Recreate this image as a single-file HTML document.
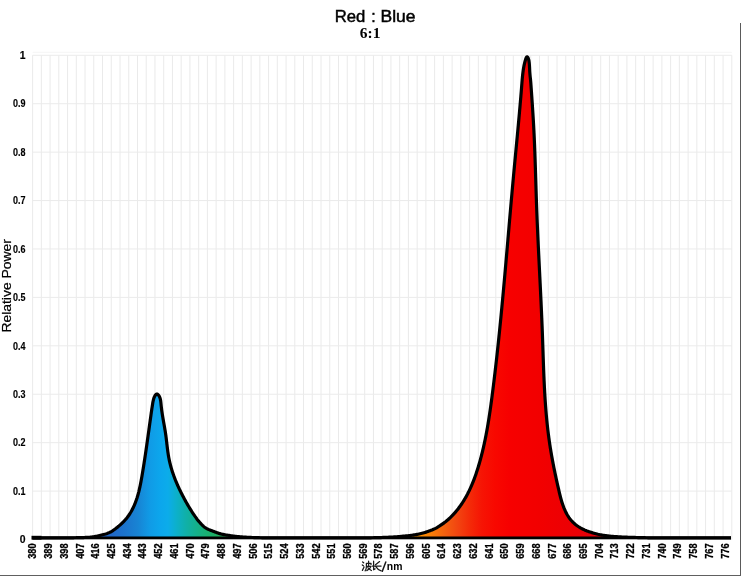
<!DOCTYPE html>
<html><head><meta charset="utf-8"><style>
html,body{margin:0;padding:0;background:#fff;width:741px;height:576px;overflow:hidden}
svg{display:block;font-family:"Liberation Sans",sans-serif;will-change:transform}
</style></head><body>
<svg width="741" height="576" viewBox="0 0 741 576">
<defs><linearGradient id="g" gradientUnits="userSpaceOnUse" x1="0" y1="0" x2="741" y2="0">
<stop offset="0.1350" stop-color="#2266c8"/>
<stop offset="0.1511" stop-color="#2068c8"/>
<stop offset="0.1687" stop-color="#1c74cc"/>
<stop offset="0.1862" stop-color="#1884d4"/>
<stop offset="0.2024" stop-color="#109be6"/>
<stop offset="0.2159" stop-color="#0ca6ec"/>
<stop offset="0.2267" stop-color="#0cacea"/>
<stop offset="0.2375" stop-color="#0cb0cc"/>
<stop offset="0.2510" stop-color="#10b0a8"/>
<stop offset="0.2645" stop-color="#14b08c"/>
<stop offset="0.2780" stop-color="#18b074"/>
<stop offset="0.2942" stop-color="#20b060"/>
<stop offset="0.3171" stop-color="#30b050"/>
<stop offset="0.4049" stop-color="#80b030"/>
<stop offset="0.5398" stop-color="#ffa800"/>
<stop offset="0.5641" stop-color="#fc9400"/>
<stop offset="0.5830" stop-color="#f87c08"/>
<stop offset="0.6005" stop-color="#f36010"/>
<stop offset="0.6181" stop-color="#f24410"/>
<stop offset="0.6343" stop-color="#f42a08"/>
<stop offset="0.6505" stop-color="#f61404"/>
<stop offset="0.6680" stop-color="#f80800"/>
<stop offset="0.6883" stop-color="#f70000"/>
<stop offset="0.7287" stop-color="#f20000"/>
<stop offset="0.7692" stop-color="#ec0004"/>
<stop offset="0.8097" stop-color="#e4000c"/>
</linearGradient></defs>
<rect width="741" height="576" fill="#fff"/>
<path d="M32.60,55.3V539.5M41.34,55.3V539.5M50.08,55.3V539.5M58.82,55.3V539.5M67.56,55.3V539.5M76.30,55.3V539.5M85.04,55.3V539.5M93.78,55.3V539.5M102.52,55.3V539.5M111.26,55.3V539.5M120.00,55.3V539.5M128.74,55.3V539.5M137.48,55.3V539.5M146.22,55.3V539.5M154.96,55.3V539.5M163.70,55.3V539.5M172.44,55.3V539.5M181.18,55.3V539.5M189.92,55.3V539.5M198.66,55.3V539.5M207.40,55.3V539.5M216.14,55.3V539.5M224.88,55.3V539.5M233.62,55.3V539.5M242.36,55.3V539.5M251.10,55.3V539.5M259.84,55.3V539.5M268.58,55.3V539.5M277.32,55.3V539.5M286.06,55.3V539.5M294.80,55.3V539.5M303.54,55.3V539.5M312.28,55.3V539.5M321.02,55.3V539.5M329.76,55.3V539.5M338.50,55.3V539.5M347.24,55.3V539.5M355.98,55.3V539.5M364.72,55.3V539.5M373.46,55.3V539.5M382.20,55.3V539.5M390.94,55.3V539.5M399.68,55.3V539.5M408.42,55.3V539.5M417.16,55.3V539.5M425.90,55.3V539.5M434.64,55.3V539.5M443.38,55.3V539.5M452.12,55.3V539.5M460.86,55.3V539.5M469.60,55.3V539.5M478.34,55.3V539.5M487.08,55.3V539.5M495.82,55.3V539.5M504.56,55.3V539.5M513.30,55.3V539.5M522.04,55.3V539.5M530.78,55.3V539.5M539.52,55.3V539.5M548.26,55.3V539.5M557.00,55.3V539.5M565.74,55.3V539.5M574.48,55.3V539.5M583.22,55.3V539.5M591.96,55.3V539.5M600.70,55.3V539.5M609.44,55.3V539.5M618.18,55.3V539.5M626.92,55.3V539.5M635.66,55.3V539.5M644.40,55.3V539.5M653.14,55.3V539.5M661.88,55.3V539.5M670.62,55.3V539.5M679.36,55.3V539.5M688.10,55.3V539.5M696.84,55.3V539.5M705.58,55.3V539.5M714.32,55.3V539.5M723.06,55.3V539.5M731.80,55.3V539.5" stroke="#eaeaea" stroke-width="1" fill="none"/>
<path d="M32.60,539.50H731.80M32.60,491.08H731.80M32.60,442.66H731.80M32.60,394.24H731.80M32.60,345.82H731.80M32.60,297.40H731.80M32.60,248.98H731.80M32.60,200.56H731.80M32.60,152.14H731.80M32.60,103.72H731.80M32.60,55.30H731.80" stroke="#ebebeb" stroke-width="1" fill="none"/>
<path d="M32.60,52.3H731.80" stroke="#f5f5f5" stroke-width="1"/>
<path d="M32.55,537.95 L33.55,537.95 L34.55,537.95 L35.55,537.95 L36.55,537.95 L37.55,537.95 L38.55,537.95 L39.55,537.95 L40.55,537.95 L41.55,537.95 L42.55,537.95 L43.55,537.95 L44.55,537.95 L45.55,537.95 L46.55,537.95 L47.55,537.95 L48.55,537.95 L49.55,537.95 L50.55,537.95 L51.55,537.95 L52.55,537.95 L53.55,537.95 L54.55,537.95 L55.55,537.95 L56.55,537.95 L57.55,537.95 L58.55,537.95 L59.55,537.95 L60.55,537.95 L61.55,537.95 L62.55,537.95 L63.55,537.95 L64.55,537.95 L65.55,537.95 L66.55,537.94 L67.55,537.93 L68.55,537.92 L69.55,537.91 L70.55,537.88 L71.55,537.86 L72.55,537.83 L73.55,537.80 L74.55,537.76 L75.55,537.73 L76.55,537.70 L77.55,537.67 L78.55,537.65 L79.55,537.62 L80.55,537.60 L81.55,537.58 L82.55,537.55 L83.55,537.53 L84.55,537.50 L85.55,537.46 L86.55,537.42 L87.55,537.37 L88.55,537.31 L89.55,537.24 L90.55,537.15 L91.55,537.05 L92.55,536.93 L93.55,536.79 L94.55,536.62 L95.55,536.43 L96.55,536.22 L97.55,535.99 L98.55,535.74 L99.55,535.49 L100.55,535.24 L101.55,534.99 L102.55,534.74 L103.55,534.48 L104.55,534.22 L105.55,533.95 L106.32,533.72 L107.16,533.44 L108.00,533.12 L108.83,532.77 L109.65,532.39 L110.47,531.98 L111.28,531.53 L112.08,531.06 L112.87,530.56 L113.66,530.03 L114.43,529.49 L115.20,528.93 L115.96,528.35 L116.71,527.76 L117.45,527.16 L118.18,526.55 L118.90,525.97 L119.61,525.37 L120.31,524.77 L120.99,524.16 L121.67,523.53 L122.33,522.89 L122.99,522.25 L123.63,521.59 L124.26,520.92 L124.87,520.25 L125.48,519.56 L126.06,518.86 L126.64,518.16 L127.20,517.45 L127.75,516.72 L128.29,515.99 L128.81,515.26 L129.31,514.51 L129.80,513.76 L130.28,513.00 L130.75,512.23 L131.20,511.45 L131.64,510.67 L132.07,509.88 L132.48,509.09 L132.89,508.28 L133.28,507.48 L133.66,506.66 L134.03,505.84 L134.39,505.02 L134.74,504.18 L135.08,503.35 L135.41,502.51 L135.73,501.66 L136.04,500.81 L136.34,499.95 L136.63,499.09 L136.92,498.23 L137.19,497.36 L137.46,496.48 L137.72,495.61 L137.97,494.73 L138.22,493.84 L138.45,492.96 L138.69,492.07 L138.91,491.17 L139.13,490.28 L139.34,489.38 L139.55,488.48 L139.75,487.58 L139.95,486.67 L140.14,485.77 L140.33,484.86 L140.51,483.95 L140.69,483.04 L140.87,482.13 L141.04,481.22 L141.21,480.31 L141.37,479.39 L141.54,478.48 L141.70,477.57 L141.86,476.65 L142.01,475.74 L142.17,474.83 L142.32,473.91 L142.48,473.00 L142.63,472.09 L142.78,471.18 L142.93,470.27 L143.08,469.36 L143.23,468.45 L143.37,467.55 L143.52,466.64 L143.66,465.73 L143.81,464.82 L143.95,463.92 L144.09,463.01 L144.23,462.11 L144.37,461.20 L144.51,460.30 L144.65,459.39 L144.79,458.49 L144.93,457.59 L145.06,456.68 L145.20,455.78 L145.33,454.88 L145.47,453.98 L145.60,453.08 L145.73,452.18 L145.87,451.28 L146.00,450.38 L146.13,449.47 L146.26,448.57 L146.39,447.67 L146.52,446.77 L146.65,445.88 L146.78,444.98 L146.90,444.08 L147.03,443.18 L147.16,442.28 L147.29,441.38 L147.41,440.48 L147.54,439.58 L147.67,438.68 L147.79,437.79 L147.92,436.89 L148.04,435.99 L148.17,435.09 L148.29,434.19 L148.42,433.29 L148.54,432.39 L148.67,431.49 L148.79,430.60 L148.92,429.70 L149.04,428.80 L149.17,427.90 L149.29,427.00 L149.42,426.10 L149.54,425.20 L149.67,424.30 L149.79,423.40 L149.92,422.50 L150.04,421.60 L150.17,420.70 L150.29,419.80 L150.42,418.90 L150.55,417.99 L150.67,417.09 L150.80,416.19 L150.93,415.29 L151.05,414.38 L151.18,413.48 L151.31,412.57 L151.44,411.65 L151.58,410.73 L151.71,409.79 L151.85,408.85 L151.99,407.89 L152.14,406.92 L152.29,405.93 L152.45,404.92 L152.61,403.90 L152.78,402.86 L152.97,401.82 L153.18,400.79 L153.42,399.78 L153.69,398.80 L154.00,397.85 L154.36,396.95 L154.76,396.11 L155.21,395.35 L155.71,394.71 L156.25,394.26 L156.81,394.06 L157.38,394.16 L157.96,394.52 L158.52,395.09 L159.03,395.82 L159.48,396.65 L159.85,397.52 L160.15,398.43 L160.39,399.38 L160.58,400.35 L160.74,401.34 L160.86,402.34 L160.96,403.34 L161.06,404.35 L161.15,405.35 L161.26,406.34 L161.37,407.32 L161.48,408.29 L161.60,409.25 L161.72,410.21 L161.85,411.16 L161.98,412.09 L162.12,413.03 L162.26,413.95 L162.40,414.87 L162.55,415.79 L162.70,416.69 L162.85,417.60 L163.00,418.50 L163.16,419.39 L163.31,420.28 L163.47,421.17 L163.62,422.06 L163.78,422.94 L163.94,423.83 L164.10,424.71 L164.25,425.59 L164.41,426.47 L164.56,427.35 L164.71,428.23 L164.86,429.11 L165.01,429.99 L165.16,430.88 L165.30,431.76 L165.44,432.65 L165.57,433.54 L165.70,434.44 L165.83,435.34 L165.95,436.24 L166.07,437.15 L166.18,438.06 L166.29,438.97 L166.41,439.89 L166.51,440.81 L166.62,441.73 L166.73,442.65 L166.83,443.57 L166.94,444.50 L167.05,445.42 L167.16,446.35 L167.27,447.28 L167.38,448.21 L167.50,449.13 L167.62,450.06 L167.74,450.99 L167.87,451.91 L168.00,452.83 L168.14,453.76 L168.28,454.68 L168.43,455.60 L168.58,456.51 L168.75,457.42 L168.92,458.33 L169.10,459.24 L169.28,460.14 L169.48,461.04 L169.68,461.94 L169.89,462.84 L170.11,463.73 L170.33,464.62 L170.56,465.50 L170.80,466.39 L171.04,467.27 L171.29,468.15 L171.55,469.02 L171.82,469.90 L172.09,470.77 L172.37,471.63 L172.65,472.50 L172.94,473.36 L173.24,474.23 L173.54,475.08 L173.85,475.94 L174.17,476.80 L174.49,477.65 L174.81,478.50 L175.15,479.35 L175.48,480.20 L175.83,481.04 L176.17,481.88 L176.53,482.72 L176.89,483.56 L177.25,484.40 L177.62,485.24 L177.99,486.07 L178.37,486.90 L178.75,487.74 L179.14,488.57 L179.53,489.39 L179.93,490.22 L180.33,491.05 L180.74,491.87 L181.15,492.70 L181.56,493.52 L181.98,494.34 L182.40,495.16 L182.82,495.98 L183.25,496.80 L183.68,497.61 L184.12,498.43 L184.55,499.24 L185.00,500.06 L185.44,500.87 L185.89,501.68 L186.35,502.49 L186.81,503.30 L187.27,504.10 L187.73,504.90 L188.20,505.71 L188.68,506.50 L189.16,507.30 L189.64,508.10 L190.13,508.89 L190.62,509.68 L191.12,510.46 L191.62,511.25 L192.12,512.03 L192.63,512.81 L193.15,513.58 L193.66,514.35 L194.19,515.12 L194.72,515.88 L195.25,516.64 L195.80,517.39 L196.35,518.18 L196.90,518.96 L197.46,519.71 L198.04,520.43 L198.62,521.13 L199.21,521.82 L199.80,522.50 L200.41,523.18 L201.03,523.85 L201.66,524.51 L202.30,525.17 L202.96,525.79 L203.62,526.39 L204.30,526.96 L204.99,527.48 L205.70,527.96 L206.42,528.39 L207.15,528.78 L207.90,529.14 L208.00,529.18 L209.00,529.63 L210.00,530.04 L211.00,530.44 L212.00,530.83 L213.00,531.22 L214.00,531.60 L215.00,531.98 L216.00,532.34 L217.00,532.70 L218.00,533.04 L219.00,533.36 L220.00,533.65 L221.00,533.92 L222.00,534.17 L223.00,534.39 L224.00,534.59 L225.00,534.78 L226.00,534.96 L227.00,535.13 L228.00,535.28 L229.00,535.44 L230.00,535.58 L231.00,535.73 L232.00,535.87 L233.00,536.00 L234.00,536.13 L235.00,536.25 L236.00,536.37 L237.00,536.48 L238.00,536.58 L239.00,536.68 L240.00,536.77 L241.00,536.85 L242.00,536.93 L243.00,537.00 L244.00,537.07 L245.00,537.13 L246.00,537.19 L247.00,537.24 L248.00,537.30 L249.00,537.34 L250.00,537.39 L251.00,537.44 L252.00,537.48 L253.00,537.52 L254.00,537.56 L255.00,537.60 L256.00,537.63 L257.00,537.67 L258.00,537.70 L259.00,537.72 L260.00,537.75 L261.00,537.77 L262.00,537.79 L263.00,537.81 L264.00,537.82 L265.00,537.84 L266.00,537.85 L267.00,537.86 L268.00,537.87 L269.00,537.88 L270.00,537.89 L271.00,537.90 L272.00,537.91 L273.00,537.92 L274.00,537.93 L275.00,537.93 L276.00,537.94 L277.00,537.94 L278.00,537.94 L279.00,537.95 L280.00,537.95 L281.00,537.95 L282.00,537.95 L283.00,537.95 L284.00,537.95 L285.00,537.95 L286.00,537.95 L287.00,537.95 L288.00,537.95 L289.00,537.95 L290.00,537.95 L291.00,537.95 L292.00,537.95 L293.00,537.95 L294.00,537.95 L295.00,537.95 L296.00,537.95 L297.00,537.95 L298.00,537.95 L299.00,537.95 L300.00,537.95 L301.00,537.95 L302.00,537.95 L303.00,537.95 L304.00,537.95 L305.00,537.95 L306.00,537.95 L307.00,537.95 L308.00,537.95 L309.00,537.95 L310.00,537.95 L311.00,537.95 L312.00,537.95 L313.00,537.95 L314.00,537.95 L315.00,537.95 L316.00,537.95 L317.00,537.95 L318.00,537.95 L319.00,537.95 L320.00,537.95 L321.00,537.95 L322.00,537.95 L323.00,537.95 L324.00,537.95 L325.00,537.95 L326.00,537.95 L327.00,537.95 L328.00,537.95 L329.00,537.95 L330.00,537.95 L331.00,537.95 L332.00,537.95 L333.00,537.95 L334.00,537.95 L335.00,537.95 L336.00,537.95 L337.00,537.95 L338.00,537.95 L339.00,537.95 L340.00,537.95 L341.00,537.95 L342.00,537.95 L343.00,537.95 L344.00,537.95 L345.00,537.95 L346.00,537.95 L347.00,537.95 L348.00,537.95 L349.00,537.95 L350.00,537.95 L351.00,537.95 L352.00,537.95 L353.00,537.95 L354.00,537.95 L355.00,537.95 L356.00,537.95 L357.00,537.95 L358.00,537.94 L359.00,537.94 L360.00,537.93 L361.00,537.93 L362.00,537.92 L363.00,537.91 L364.00,537.89 L365.00,537.88 L366.00,537.87 L367.00,537.85 L368.00,537.83 L369.00,537.82 L370.00,537.80 L371.00,537.78 L372.00,537.76 L373.00,537.74 L374.00,537.72 L375.00,537.69 L376.00,537.67 L377.00,537.64 L378.00,537.62 L379.00,537.59 L380.00,537.56 L381.00,537.53 L382.00,537.50 L383.00,537.46 L384.00,537.43 L385.00,537.39 L386.00,537.35 L387.00,537.31 L388.00,537.27 L389.00,537.22 L390.00,537.17 L391.00,537.12 L392.00,537.07 L393.00,537.01 L394.00,536.94 L395.00,536.88 L396.00,536.81 L397.00,536.73 L398.00,536.65 L399.00,536.57 L400.00,536.48 L401.00,536.39 L402.00,536.30 L403.00,536.21 L404.00,536.12 L405.00,536.02 L406.00,535.93 L407.00,535.83 L408.00,535.73 L409.00,535.62 L410.00,535.50 L411.00,535.38 L412.00,535.25 L413.00,535.10 L414.00,534.95 L415.00,534.78 L416.00,534.61 L417.00,534.42 L418.00,534.22 L419.00,534.00 L420.00,533.77 L421.00,533.53 L422.00,533.27 L423.00,533.00 L424.00,532.72 L425.00,532.42 L426.00,532.11 L427.00,531.78 L428.00,531.45 L429.00,531.10 L430.00,530.73 L431.00,530.35 L432.00,529.95 L433.00,529.52 L434.00,529.07 L435.00,528.59 L436.00,528.08 L437.00,527.53 L438.02,526.94 L439.19,526.22 L440.35,525.46 L441.49,524.69 L442.61,523.90 L443.72,523.10 L444.81,522.29 L445.89,521.47 L446.95,520.59 L447.99,519.69 L449.01,518.77 L450.02,517.83 L451.01,516.87 L451.98,515.89 L452.93,514.90 L453.86,513.89 L454.78,512.87 L455.67,511.84 L456.55,510.79 L457.41,509.73 L458.25,508.66 L459.07,507.58 L459.87,506.49 L460.66,505.38 L461.43,504.27 L462.19,503.14 L462.92,502.00 L463.65,500.85 L464.35,499.70 L465.04,498.53 L465.72,497.36 L466.38,496.17 L467.02,494.98 L467.66,493.78 L468.27,492.57 L468.88,491.35 L469.47,490.13 L470.05,488.90 L470.62,487.66 L471.17,486.41 L471.71,485.16 L472.24,483.90 L472.76,482.64 L473.27,481.37 L473.76,480.10 L474.25,478.82 L474.72,477.54 L475.19,476.25 L475.65,474.96 L476.09,473.66 L476.53,472.36 L476.96,471.06 L477.38,469.76 L477.79,468.45 L478.20,467.14 L478.60,465.83 L478.99,464.52 L479.37,463.20 L479.75,461.88 L480.11,460.57 L480.48,459.25 L480.83,457.92 L481.18,456.60 L481.53,455.28 L481.86,453.95 L482.20,452.62 L482.52,451.29 L482.84,449.96 L483.15,448.63 L483.46,447.30 L483.76,445.97 L484.06,444.63 L484.35,443.29 L484.64,441.96 L484.92,440.62 L485.20,439.28 L485.47,437.94 L485.73,436.59 L486.00,435.25 L486.25,433.91 L486.51,432.56 L486.75,431.22 L487.00,429.87 L487.24,428.52 L487.48,427.17 L487.71,425.82 L487.94,424.47 L488.16,423.12 L488.39,421.77 L488.60,420.41 L488.82,419.06 L489.03,417.71 L489.24,416.35 L489.45,415.00 L489.65,413.64 L489.85,412.28 L490.05,410.93 L490.25,409.57 L490.44,408.21 L490.63,406.85 L490.82,405.50 L491.01,404.14 L491.19,402.78 L491.38,401.42 L491.56,400.06 L491.74,398.70 L491.92,397.34 L492.09,395.98 L492.27,394.61 L492.45,393.25 L492.62,391.89 L492.79,390.53 L492.97,389.17 L493.14,387.81 L493.31,386.45 L493.48,385.09 L493.64,383.72 L493.81,382.36 L493.98,381.00 L494.14,379.64 L494.31,378.28 L494.47,376.92 L494.64,375.55 L494.80,374.19 L494.96,372.83 L495.12,371.47 L495.28,370.10 L495.44,368.74 L495.60,367.38 L495.75,366.02 L495.91,364.65 L496.07,363.29 L496.22,361.93 L496.37,360.56 L496.53,359.20 L496.68,357.84 L496.83,356.47 L496.98,355.11 L497.13,353.75 L497.28,352.38 L497.43,351.02 L497.58,349.66 L497.73,348.29 L497.87,346.93 L498.02,345.57 L498.16,344.20 L498.31,342.84 L498.45,341.47 L498.60,340.11 L498.74,338.75 L498.88,337.38 L499.02,336.02 L499.16,334.65 L499.30,333.29 L499.44,331.93 L499.58,330.56 L499.72,329.20 L499.86,327.83 L499.99,326.47 L500.13,325.10 L500.26,323.74 L500.40,322.37 L500.53,321.01 L500.67,319.64 L500.80,318.28 L500.94,316.91 L501.07,315.55 L501.20,314.18 L501.33,312.82 L501.46,311.45 L501.59,310.09 L501.73,308.72 L501.85,307.36 L501.98,305.99 L502.11,304.63 L502.24,303.26 L502.37,301.90 L502.50,300.53 L502.63,299.17 L502.75,297.80 L502.88,296.44 L503.00,295.07 L503.13,293.71 L503.26,292.34 L503.38,290.98 L503.51,289.61 L503.63,288.24 L503.75,286.88 L503.88,285.51 L504.00,284.15 L504.12,282.78 L504.25,281.42 L504.37,280.05 L504.49,278.69 L504.61,277.32 L504.74,275.95 L504.86,274.59 L504.98,273.22 L505.10,271.86 L505.22,270.49 L505.34,269.13 L505.46,267.76 L505.58,266.39 L505.70,265.03 L505.82,263.66 L505.94,262.30 L506.06,260.93 L506.18,259.57 L506.30,258.20 L506.42,256.84 L506.54,255.47 L506.65,254.10 L506.77,252.74 L506.89,251.37 L507.01,250.01 L507.13,248.64 L507.25,247.28 L507.36,245.91 L507.48,244.55 L507.60,243.18 L507.72,241.81 L507.84,240.45 L507.95,239.08 L508.07,237.72 L508.19,236.35 L508.31,234.99 L508.42,233.62 L508.54,232.26 L508.66,230.89 L508.78,229.53 L508.90,228.16 L509.01,226.80 L509.13,225.43 L509.25,224.07 L509.37,222.70 L509.49,221.34 L509.60,219.97 L509.72,218.60 L509.84,217.24 L509.96,215.88 L510.08,214.51 L510.20,213.15 L510.32,211.78 L510.44,210.42 L510.56,209.05 L510.67,207.69 L510.79,206.32 L510.91,204.96 L511.03,203.59 L511.15,202.23 L511.27,200.86 L511.40,199.50 L511.52,198.13 L511.64,196.77 L511.76,195.41 L511.88,194.04 L512.00,192.68 L512.12,191.31 L512.25,189.95 L512.37,188.59 L512.49,187.22 L512.62,185.86 L512.74,184.49 L512.86,183.13 L512.99,181.77 L513.11,180.40 L513.24,179.04 L513.36,177.68 L513.49,176.31 L513.61,174.95 L513.74,173.59 L513.87,172.22 L513.99,170.86 L514.12,169.50 L514.25,168.13 L514.38,166.77 L514.50,165.41 L514.63,164.05 L514.76,162.68 L514.89,161.32 L515.02,159.96 L515.15,158.59 L515.28,157.23 L515.41,155.87 L515.53,154.50 L515.66,153.14 L515.79,151.78 L515.92,150.42 L516.05,149.05 L516.18,147.69 L516.31,146.32 L516.44,144.96 L516.57,143.60 L516.70,142.23 L516.83,140.87 L516.96,139.51 L517.09,138.14 L517.22,136.78 L517.35,135.41 L517.47,134.05 L517.60,132.68 L517.73,131.32 L517.86,129.95 L517.98,128.59 L518.11,127.22 L518.24,125.86 L518.36,124.49 L518.49,123.12 L518.62,121.76 L518.74,120.39 L518.87,119.02 L518.99,117.66 L519.11,116.29 L519.24,114.92 L519.36,113.55 L519.48,112.18 L519.60,110.81 L519.72,109.44 L519.85,108.08 L519.97,106.71 L520.08,105.34 L520.20,103.97 L520.32,102.59 L520.44,101.22 L520.55,99.85 L520.67,98.48 L520.79,97.11 L520.90,95.73 L521.01,94.36 L521.13,92.99 L521.24,91.61 L521.35,90.24 L521.46,88.87 L521.57,87.49 L521.68,86.11 L521.78,84.74 L521.89,83.36 L522.00,81.98 L522.11,80.61 L522.23,79.23 L522.35,77.85 L522.48,76.47 L522.62,75.09 L522.78,73.71 L522.95,72.33 L523.14,70.95 L523.34,69.57 L523.56,68.19 L523.81,66.80 L524.08,65.42 L524.38,64.03 L524.71,62.65 L525.06,61.26 L525.45,59.88 L525.87,58.54 L526.33,57.45 L526.84,56.85 L527.38,56.91 L527.91,57.54 L528.39,58.57 L528.76,59.87 L529.04,61.39 L529.25,63.06 L529.40,64.83 L529.50,66.64 L529.59,68.45 L529.67,70.20 L529.76,71.83 L529.87,73.33 L529.99,74.73 L530.12,76.05 L530.26,77.31 L530.40,78.55 L530.53,79.78 L530.65,81.05 L530.76,82.36 L530.87,83.71 L530.96,85.08 L531.06,86.45 L531.16,87.82 L531.26,89.20 L531.35,90.57 L531.45,91.94 L531.55,93.31 L531.64,94.68 L531.74,96.05 L531.83,97.42 L531.93,98.79 L532.02,100.16 L532.12,101.53 L532.21,102.90 L532.30,104.27 L532.39,105.64 L532.48,107.01 L532.57,108.37 L532.66,109.74 L532.75,111.11 L532.84,112.48 L532.93,113.85 L533.01,115.22 L533.10,116.58 L533.18,117.95 L533.26,119.32 L533.35,120.69 L533.43,122.06 L533.50,123.42 L533.58,124.79 L533.66,126.16 L533.73,127.53 L533.80,128.89 L533.88,130.26 L533.95,131.63 L534.01,133.00 L534.08,134.37 L534.15,135.73 L534.21,137.10 L534.27,138.47 L534.33,139.84 L534.40,141.21 L534.45,142.57 L534.51,143.94 L534.57,145.31 L534.62,146.68 L534.68,148.05 L534.73,149.41 L534.78,150.78 L534.84,152.15 L534.89,153.52 L534.94,154.89 L534.98,156.26 L535.03,157.63 L535.08,158.99 L535.13,160.36 L535.17,161.73 L535.22,163.10 L535.26,164.47 L535.31,165.84 L535.35,167.21 L535.40,168.57 L535.44,169.94 L535.48,171.31 L535.52,172.68 L535.57,174.05 L535.61,175.42 L535.65,176.79 L535.69,178.16 L535.74,179.52 L535.78,180.89 L535.82,182.26 L535.86,183.63 L535.90,185.00 L535.95,186.37 L535.99,187.74 L536.03,189.11 L536.07,190.48 L536.12,191.84 L536.16,193.21 L536.21,194.58 L536.25,195.95 L536.29,197.32 L536.34,198.69 L536.39,200.06 L536.43,201.43 L536.48,202.80 L536.53,204.16 L536.58,205.53 L536.63,206.90 L536.68,208.27 L536.73,209.64 L536.78,211.01 L536.83,212.38 L536.89,213.75 L536.94,215.12 L537.00,216.48 L537.05,217.85 L537.11,219.22 L537.16,220.59 L537.22,221.96 L537.28,223.33 L537.34,224.70 L537.40,226.07 L537.46,227.44 L537.52,228.80 L537.58,230.17 L537.64,231.54 L537.70,232.91 L537.76,234.28 L537.82,235.65 L537.88,237.02 L537.95,238.39 L538.01,239.76 L538.08,241.13 L538.14,242.49 L538.20,243.86 L538.27,245.23 L538.33,246.60 L538.40,247.97 L538.47,249.34 L538.53,250.71 L538.60,252.08 L538.66,253.45 L538.73,254.81 L538.80,256.18 L538.86,257.55 L538.93,258.92 L539.00,260.29 L539.07,261.66 L539.13,263.03 L539.20,264.40 L539.27,265.77 L539.34,267.14 L539.40,268.51 L539.47,269.87 L539.54,271.24 L539.61,272.61 L539.68,273.98 L539.74,275.35 L539.81,276.72 L539.88,278.09 L539.95,279.46 L540.02,280.83 L540.08,282.20 L540.15,283.57 L540.22,284.94 L540.28,286.30 L540.35,287.67 L540.42,289.04 L540.48,290.41 L540.55,291.78 L540.62,293.15 L540.68,294.52 L540.75,295.89 L540.81,297.26 L540.88,298.63 L540.94,300.00 L541.01,301.37 L541.07,302.74 L541.13,304.11 L541.20,305.48 L541.26,306.85 L541.32,308.21 L541.38,309.58 L541.44,310.95 L541.50,312.32 L541.56,313.69 L541.62,315.06 L541.68,316.43 L541.74,317.80 L541.80,319.17 L541.86,320.54 L541.91,321.91 L541.97,323.28 L542.03,324.65 L542.08,326.02 L542.14,327.39 L542.19,328.76 L542.24,330.13 L542.30,331.50 L542.35,332.87 L542.40,334.24 L542.45,335.61 L542.50,336.98 L542.55,338.35 L542.60,339.72 L542.64,341.09 L542.69,342.46 L542.74,343.83 L542.78,345.20 L542.83,346.57 L542.88,347.94 L542.92,349.31 L542.97,350.68 L543.02,352.05 L543.06,353.42 L543.11,354.79 L543.15,356.16 L543.20,357.53 L543.25,358.89 L543.30,360.26 L543.34,361.63 L543.39,363.00 L543.44,364.37 L543.49,365.74 L543.54,367.11 L543.59,368.48 L543.64,369.85 L543.70,371.21 L543.75,372.58 L543.81,373.95 L543.86,375.32 L543.92,376.69 L543.98,378.05 L544.04,379.42 L544.10,380.79 L544.17,382.15 L544.23,383.52 L544.30,384.89 L544.36,386.25 L544.43,387.62 L544.51,388.98 L544.58,390.35 L544.65,391.71 L544.73,393.08 L544.81,394.44 L544.89,395.81 L544.98,397.17 L545.06,398.54 L545.15,399.90 L545.24,401.26 L545.34,402.63 L545.43,403.99 L545.53,405.35 L545.63,406.71 L545.74,408.07 L545.84,409.44 L545.95,410.80 L546.07,412.16 L546.18,413.52 L546.30,414.88 L546.42,416.24 L546.55,417.60 L546.68,418.95 L546.81,420.31 L546.94,421.67 L547.08,423.03 L547.23,424.38 L547.37,425.74 L547.52,427.10 L547.68,428.45 L547.83,429.81 L547.99,431.16 L548.16,432.52 L548.33,433.87 L548.50,435.23 L548.68,436.58 L548.86,437.93 L549.05,439.28 L549.24,440.63 L549.43,441.99 L549.63,443.34 L549.83,444.69 L550.04,446.03 L550.25,447.38 L550.47,448.73 L550.69,450.08 L550.91,451.42 L551.14,452.77 L551.37,454.11 L551.60,455.45 L551.84,456.79 L552.08,458.13 L552.33,459.47 L552.57,460.81 L552.83,462.14 L553.08,463.48 L553.34,464.81 L553.60,466.14 L553.86,467.47 L554.13,468.79 L554.39,470.12 L554.67,471.44 L554.94,472.76 L555.22,474.08 L555.49,475.40 L555.78,476.71 L556.06,478.02 L556.34,479.33 L556.63,480.64 L556.92,481.94 L557.21,483.24 L557.51,484.54 L557.80,485.84 L558.10,487.13 L558.40,488.42 L558.70,489.71 L559.00,491.00 L559.30,492.28 L559.61,493.56 L559.92,494.84 L560.24,496.11 L560.56,497.39 L560.90,498.66 L561.26,499.93 L561.63,501.21 L562.02,502.48 L562.44,503.75 L562.88,505.03 L563.34,506.31 L563.83,507.59 L564.36,508.87 L564.92,510.16 L565.51,511.45 L566.14,512.73 L566.80,514.00 L567.51,515.24 L568.25,516.44 L569.02,517.60 L569.84,518.71 L570.68,519.77 L571.57,520.78 L572.48,521.75 L573.43,522.68 L574.41,523.57 L575.42,524.41 L576.45,525.22 L577.52,525.99 L578.61,526.73 L579.72,527.43 L580.86,528.08 L582.03,528.71 L583.21,529.31 L584.42,529.88 L585.64,530.42 L586.00,530.57 L587.00,530.97 L588.00,531.34 L589.00,531.69 L590.00,532.02 L591.00,532.34 L592.00,532.65 L593.00,532.95 L594.00,533.24 L595.00,533.52 L596.00,533.79 L597.00,534.04 L598.00,534.29 L599.00,534.51 L600.00,534.73 L601.00,534.92 L602.00,535.10 L603.00,535.27 L604.00,535.43 L605.00,535.58 L606.00,535.71 L607.00,535.84 L608.00,535.96 L609.00,536.07 L610.00,536.17 L611.00,536.26 L612.00,536.35 L613.00,536.44 L614.00,536.51 L615.00,536.59 L616.00,536.65 L617.00,536.72 L618.00,536.78 L619.00,536.83 L620.00,536.89 L621.00,536.94 L622.00,536.99 L623.00,537.03 L624.00,537.08 L625.00,537.12 L626.00,537.16 L627.00,537.20 L628.00,537.24 L629.00,537.27 L630.00,537.31 L631.00,537.34 L632.00,537.37 L633.00,537.41 L634.00,537.44 L635.00,537.47 L636.00,537.49 L637.00,537.52 L638.00,537.55 L639.00,537.57 L640.00,537.60 L641.00,537.62 L642.00,537.65 L643.00,537.67 L644.00,537.70 L645.00,537.72 L646.00,537.74 L647.00,537.76 L648.00,537.79 L649.00,537.81 L650.00,537.83 L651.00,537.85 L652.00,537.86 L653.00,537.88 L654.00,537.90 L655.00,537.91 L656.00,537.92 L657.00,537.93 L658.00,537.93 L659.00,537.94 L660.00,537.94 L661.00,537.95 L662.00,537.95 L663.00,537.95 L664.00,537.95 L665.00,537.95 L666.00,537.95 L667.00,537.95 L668.00,537.95 L669.00,537.95 L670.00,537.95 L671.00,537.95 L672.00,537.95 L673.00,537.95 L674.00,537.95 L675.00,537.95 L676.00,537.95 L677.00,537.95 L678.00,537.95 L679.00,537.95 L680.00,537.95 L681.00,537.95 L682.00,537.95 L683.00,537.95 L684.00,537.95 L685.00,537.95 L686.00,537.95 L687.00,537.95 L688.00,537.95 L689.00,537.95 L690.00,537.95 L691.00,537.95 L692.00,537.95 L693.00,537.95 L694.00,537.95 L695.00,537.95 L696.00,537.95 L697.00,537.95 L698.00,537.95 L699.00,537.95 L700.00,537.95 L701.00,537.95 L702.00,537.95 L703.00,537.95 L704.00,537.95 L705.00,537.95 L706.00,537.95 L707.00,537.95 L708.00,537.95 L709.00,537.95 L710.00,537.95 L711.00,537.95 L712.00,537.95 L713.00,537.95 L714.00,537.95 L715.00,537.95 L716.00,537.95 L717.00,537.95 L718.00,537.95 L719.00,537.95 L720.00,537.95 L721.00,537.95 L722.00,537.95 L723.00,537.95 L724.00,537.95 L725.00,537.95 L726.00,537.95 L727.00,537.95 L728.00,537.95 L729.00,537.95 L730.00,537.95 L731.00,537.95 L731.00,537.90 L32.55,537.90 Z" fill="url(#g)"/>
<path d="M32.55,537.95 L33.55,537.95 L34.55,537.95 L35.55,537.95 L36.55,537.95 L37.55,537.95 L38.55,537.95 L39.55,537.95 L40.55,537.95 L41.55,537.95 L42.55,537.95 L43.55,537.95 L44.55,537.95 L45.55,537.95 L46.55,537.95 L47.55,537.95 L48.55,537.95 L49.55,537.95 L50.55,537.95 L51.55,537.95 L52.55,537.95 L53.55,537.95 L54.55,537.95 L55.55,537.95 L56.55,537.95 L57.55,537.95 L58.55,537.95 L59.55,537.95 L60.55,537.95 L61.55,537.95 L62.55,537.95 L63.55,537.95 L64.55,537.95 L65.55,537.95 L66.55,537.94 L67.55,537.93 L68.55,537.92 L69.55,537.91 L70.55,537.88 L71.55,537.86 L72.55,537.83 L73.55,537.80 L74.55,537.76 L75.55,537.73 L76.55,537.70 L77.55,537.67 L78.55,537.65 L79.55,537.62 L80.55,537.60 L81.55,537.58 L82.55,537.55 L83.55,537.53 L84.55,537.50 L85.55,537.46 L86.55,537.42 L87.55,537.37 L88.55,537.31 L89.55,537.24 L90.55,537.15 L91.55,537.05 L92.55,536.93 L93.55,536.79 L94.55,536.62 L95.55,536.43 L96.55,536.22 L97.55,535.99 L98.55,535.74 L99.55,535.49 L100.55,535.24 L101.55,534.99 L102.55,534.74 L103.55,534.48 L104.55,534.22 L105.55,533.95 L106.32,533.72 L107.16,533.44 L108.00,533.12 L108.83,532.77 L109.65,532.39 L110.47,531.98 L111.28,531.53 L112.08,531.06 L112.87,530.56 L113.66,530.03 L114.43,529.49 L115.20,528.93 L115.96,528.35 L116.71,527.76 L117.45,527.16 L118.18,526.55 L118.90,525.97 L119.61,525.37 L120.31,524.77 L120.99,524.16 L121.67,523.53 L122.33,522.89 L122.99,522.25 L123.63,521.59 L124.26,520.92 L124.87,520.25 L125.48,519.56 L126.06,518.86 L126.64,518.16 L127.20,517.45 L127.75,516.72 L128.29,515.99 L128.81,515.26 L129.31,514.51 L129.80,513.76 L130.28,513.00 L130.75,512.23 L131.20,511.45 L131.64,510.67 L132.07,509.88 L132.48,509.09 L132.89,508.28 L133.28,507.48 L133.66,506.66 L134.03,505.84 L134.39,505.02 L134.74,504.18 L135.08,503.35 L135.41,502.51 L135.73,501.66 L136.04,500.81 L136.34,499.95 L136.63,499.09 L136.92,498.23 L137.19,497.36 L137.46,496.48 L137.72,495.61 L137.97,494.73 L138.22,493.84 L138.45,492.96 L138.69,492.07 L138.91,491.17 L139.13,490.28 L139.34,489.38 L139.55,488.48 L139.75,487.58 L139.95,486.67 L140.14,485.77 L140.33,484.86 L140.51,483.95 L140.69,483.04 L140.87,482.13 L141.04,481.22 L141.21,480.31 L141.37,479.39 L141.54,478.48 L141.70,477.57 L141.86,476.65 L142.01,475.74 L142.17,474.83 L142.32,473.91 L142.48,473.00 L142.63,472.09 L142.78,471.18 L142.93,470.27 L143.08,469.36 L143.23,468.45 L143.37,467.55 L143.52,466.64 L143.66,465.73 L143.81,464.82 L143.95,463.92 L144.09,463.01 L144.23,462.11 L144.37,461.20 L144.51,460.30 L144.65,459.39 L144.79,458.49 L144.93,457.59 L145.06,456.68 L145.20,455.78 L145.33,454.88 L145.47,453.98 L145.60,453.08 L145.73,452.18 L145.87,451.28 L146.00,450.38 L146.13,449.47 L146.26,448.57 L146.39,447.67 L146.52,446.77 L146.65,445.88 L146.78,444.98 L146.90,444.08 L147.03,443.18 L147.16,442.28 L147.29,441.38 L147.41,440.48 L147.54,439.58 L147.67,438.68 L147.79,437.79 L147.92,436.89 L148.04,435.99 L148.17,435.09 L148.29,434.19 L148.42,433.29 L148.54,432.39 L148.67,431.49 L148.79,430.60 L148.92,429.70 L149.04,428.80 L149.17,427.90 L149.29,427.00 L149.42,426.10 L149.54,425.20 L149.67,424.30 L149.79,423.40 L149.92,422.50 L150.04,421.60 L150.17,420.70 L150.29,419.80 L150.42,418.90 L150.55,417.99 L150.67,417.09 L150.80,416.19 L150.93,415.29 L151.05,414.38 L151.18,413.48 L151.31,412.57 L151.44,411.65 L151.58,410.73 L151.71,409.79 L151.85,408.85 L151.99,407.89 L152.14,406.92 L152.29,405.93 L152.45,404.92 L152.61,403.90 L152.78,402.86 L152.97,401.82 L153.18,400.79 L153.42,399.78 L153.69,398.80 L154.00,397.85 L154.36,396.95 L154.76,396.11 L155.21,395.35 L155.71,394.71 L156.25,394.26 L156.81,394.06 L157.38,394.16 L157.96,394.52 L158.52,395.09 L159.03,395.82 L159.48,396.65 L159.85,397.52 L160.15,398.43 L160.39,399.38 L160.58,400.35 L160.74,401.34 L160.86,402.34 L160.96,403.34 L161.06,404.35 L161.15,405.35 L161.26,406.34 L161.37,407.32 L161.48,408.29 L161.60,409.25 L161.72,410.21 L161.85,411.16 L161.98,412.09 L162.12,413.03 L162.26,413.95 L162.40,414.87 L162.55,415.79 L162.70,416.69 L162.85,417.60 L163.00,418.50 L163.16,419.39 L163.31,420.28 L163.47,421.17 L163.62,422.06 L163.78,422.94 L163.94,423.83 L164.10,424.71 L164.25,425.59 L164.41,426.47 L164.56,427.35 L164.71,428.23 L164.86,429.11 L165.01,429.99 L165.16,430.88 L165.30,431.76 L165.44,432.65 L165.57,433.54 L165.70,434.44 L165.83,435.34 L165.95,436.24 L166.07,437.15 L166.18,438.06 L166.29,438.97 L166.41,439.89 L166.51,440.81 L166.62,441.73 L166.73,442.65 L166.83,443.57 L166.94,444.50 L167.05,445.42 L167.16,446.35 L167.27,447.28 L167.38,448.21 L167.50,449.13 L167.62,450.06 L167.74,450.99 L167.87,451.91 L168.00,452.83 L168.14,453.76 L168.28,454.68 L168.43,455.60 L168.58,456.51 L168.75,457.42 L168.92,458.33 L169.10,459.24 L169.28,460.14 L169.48,461.04 L169.68,461.94 L169.89,462.84 L170.11,463.73 L170.33,464.62 L170.56,465.50 L170.80,466.39 L171.04,467.27 L171.29,468.15 L171.55,469.02 L171.82,469.90 L172.09,470.77 L172.37,471.63 L172.65,472.50 L172.94,473.36 L173.24,474.23 L173.54,475.08 L173.85,475.94 L174.17,476.80 L174.49,477.65 L174.81,478.50 L175.15,479.35 L175.48,480.20 L175.83,481.04 L176.17,481.88 L176.53,482.72 L176.89,483.56 L177.25,484.40 L177.62,485.24 L177.99,486.07 L178.37,486.90 L178.75,487.74 L179.14,488.57 L179.53,489.39 L179.93,490.22 L180.33,491.05 L180.74,491.87 L181.15,492.70 L181.56,493.52 L181.98,494.34 L182.40,495.16 L182.82,495.98 L183.25,496.80 L183.68,497.61 L184.12,498.43 L184.55,499.24 L185.00,500.06 L185.44,500.87 L185.89,501.68 L186.35,502.49 L186.81,503.30 L187.27,504.10 L187.73,504.90 L188.20,505.71 L188.68,506.50 L189.16,507.30 L189.64,508.10 L190.13,508.89 L190.62,509.68 L191.12,510.46 L191.62,511.25 L192.12,512.03 L192.63,512.81 L193.15,513.58 L193.66,514.35 L194.19,515.12 L194.72,515.88 L195.25,516.64 L195.80,517.39 L196.35,518.18 L196.90,518.96 L197.46,519.71 L198.04,520.43 L198.62,521.13 L199.21,521.82 L199.80,522.50 L200.41,523.18 L201.03,523.85 L201.66,524.51 L202.30,525.17 L202.96,525.79 L203.62,526.39 L204.30,526.96 L204.99,527.48 L205.70,527.96 L206.42,528.39 L207.15,528.78 L207.90,529.14 L208.00,529.18 L209.00,529.63 L210.00,530.04 L211.00,530.44 L212.00,530.83 L213.00,531.22 L214.00,531.60 L215.00,531.98 L216.00,532.34 L217.00,532.70 L218.00,533.04 L219.00,533.36 L220.00,533.65 L221.00,533.92 L222.00,534.17 L223.00,534.39 L224.00,534.59 L225.00,534.78 L226.00,534.96 L227.00,535.13 L228.00,535.28 L229.00,535.44 L230.00,535.58 L231.00,535.73 L232.00,535.87 L233.00,536.00 L234.00,536.13 L235.00,536.25 L236.00,536.37 L237.00,536.48 L238.00,536.58 L239.00,536.68 L240.00,536.77 L241.00,536.85 L242.00,536.93 L243.00,537.00 L244.00,537.07 L245.00,537.13 L246.00,537.19 L247.00,537.24 L248.00,537.30 L249.00,537.34 L250.00,537.39 L251.00,537.44 L252.00,537.48 L253.00,537.52 L254.00,537.56 L255.00,537.60 L256.00,537.63 L257.00,537.67 L258.00,537.70 L259.00,537.72 L260.00,537.75 L261.00,537.77 L262.00,537.79 L263.00,537.81 L264.00,537.82 L265.00,537.84 L266.00,537.85 L267.00,537.86 L268.00,537.87 L269.00,537.88 L270.00,537.89 L271.00,537.90 L272.00,537.91 L273.00,537.92 L274.00,537.93 L275.00,537.93 L276.00,537.94 L277.00,537.94 L278.00,537.94 L279.00,537.95 L280.00,537.95 L281.00,537.95 L282.00,537.95 L283.00,537.95 L284.00,537.95 L285.00,537.95 L286.00,537.95 L287.00,537.95 L288.00,537.95 L289.00,537.95 L290.00,537.95 L291.00,537.95 L292.00,537.95 L293.00,537.95 L294.00,537.95 L295.00,537.95 L296.00,537.95 L297.00,537.95 L298.00,537.95 L299.00,537.95 L300.00,537.95 L301.00,537.95 L302.00,537.95 L303.00,537.95 L304.00,537.95 L305.00,537.95 L306.00,537.95 L307.00,537.95 L308.00,537.95 L309.00,537.95 L310.00,537.95 L311.00,537.95 L312.00,537.95 L313.00,537.95 L314.00,537.95 L315.00,537.95 L316.00,537.95 L317.00,537.95 L318.00,537.95 L319.00,537.95 L320.00,537.95 L321.00,537.95 L322.00,537.95 L323.00,537.95 L324.00,537.95 L325.00,537.95 L326.00,537.95 L327.00,537.95 L328.00,537.95 L329.00,537.95 L330.00,537.95 L331.00,537.95 L332.00,537.95 L333.00,537.95 L334.00,537.95 L335.00,537.95 L336.00,537.95 L337.00,537.95 L338.00,537.95 L339.00,537.95 L340.00,537.95 L341.00,537.95 L342.00,537.95 L343.00,537.95 L344.00,537.95 L345.00,537.95 L346.00,537.95 L347.00,537.95 L348.00,537.95 L349.00,537.95 L350.00,537.95 L351.00,537.95 L352.00,537.95 L353.00,537.95 L354.00,537.95 L355.00,537.95 L356.00,537.95 L357.00,537.95 L358.00,537.94 L359.00,537.94 L360.00,537.93 L361.00,537.93 L362.00,537.92 L363.00,537.91 L364.00,537.89 L365.00,537.88 L366.00,537.87 L367.00,537.85 L368.00,537.83 L369.00,537.82 L370.00,537.80 L371.00,537.78 L372.00,537.76 L373.00,537.74 L374.00,537.72 L375.00,537.69 L376.00,537.67 L377.00,537.64 L378.00,537.62 L379.00,537.59 L380.00,537.56 L381.00,537.53 L382.00,537.50 L383.00,537.46 L384.00,537.43 L385.00,537.39 L386.00,537.35 L387.00,537.31 L388.00,537.27 L389.00,537.22 L390.00,537.17 L391.00,537.12 L392.00,537.07 L393.00,537.01 L394.00,536.94 L395.00,536.88 L396.00,536.81 L397.00,536.73 L398.00,536.65 L399.00,536.57 L400.00,536.48 L401.00,536.39 L402.00,536.30 L403.00,536.21 L404.00,536.12 L405.00,536.02 L406.00,535.93 L407.00,535.83 L408.00,535.73 L409.00,535.62 L410.00,535.50 L411.00,535.38 L412.00,535.25 L413.00,535.10 L414.00,534.95 L415.00,534.78 L416.00,534.61 L417.00,534.42 L418.00,534.22 L419.00,534.00 L420.00,533.77 L421.00,533.53 L422.00,533.27 L423.00,533.00 L424.00,532.72 L425.00,532.42 L426.00,532.11 L427.00,531.78 L428.00,531.45 L429.00,531.10 L430.00,530.73 L431.00,530.35 L432.00,529.95 L433.00,529.52 L434.00,529.07 L435.00,528.59 L436.00,528.08 L437.00,527.53 L438.02,526.94 L439.19,526.22 L440.35,525.46 L441.49,524.69 L442.61,523.90 L443.72,523.10 L444.81,522.29 L445.89,521.47 L446.95,520.59 L447.99,519.69 L449.01,518.77 L450.02,517.83 L451.01,516.87 L451.98,515.89 L452.93,514.90 L453.86,513.89 L454.78,512.87 L455.67,511.84 L456.55,510.79 L457.41,509.73 L458.25,508.66 L459.07,507.58 L459.87,506.49 L460.66,505.38 L461.43,504.27 L462.19,503.14 L462.92,502.00 L463.65,500.85 L464.35,499.70 L465.04,498.53 L465.72,497.36 L466.38,496.17 L467.02,494.98 L467.66,493.78 L468.27,492.57 L468.88,491.35 L469.47,490.13 L470.05,488.90 L470.62,487.66 L471.17,486.41 L471.71,485.16 L472.24,483.90 L472.76,482.64 L473.27,481.37 L473.76,480.10 L474.25,478.82 L474.72,477.54 L475.19,476.25 L475.65,474.96 L476.09,473.66 L476.53,472.36 L476.96,471.06 L477.38,469.76 L477.79,468.45 L478.20,467.14 L478.60,465.83 L478.99,464.52 L479.37,463.20 L479.75,461.88 L480.11,460.57 L480.48,459.25 L480.83,457.92 L481.18,456.60 L481.53,455.28 L481.86,453.95 L482.20,452.62 L482.52,451.29 L482.84,449.96 L483.15,448.63 L483.46,447.30 L483.76,445.97 L484.06,444.63 L484.35,443.29 L484.64,441.96 L484.92,440.62 L485.20,439.28 L485.47,437.94 L485.73,436.59 L486.00,435.25 L486.25,433.91 L486.51,432.56 L486.75,431.22 L487.00,429.87 L487.24,428.52 L487.48,427.17 L487.71,425.82 L487.94,424.47 L488.16,423.12 L488.39,421.77 L488.60,420.41 L488.82,419.06 L489.03,417.71 L489.24,416.35 L489.45,415.00 L489.65,413.64 L489.85,412.28 L490.05,410.93 L490.25,409.57 L490.44,408.21 L490.63,406.85 L490.82,405.50 L491.01,404.14 L491.19,402.78 L491.38,401.42 L491.56,400.06 L491.74,398.70 L491.92,397.34 L492.09,395.98 L492.27,394.61 L492.45,393.25 L492.62,391.89 L492.79,390.53 L492.97,389.17 L493.14,387.81 L493.31,386.45 L493.48,385.09 L493.64,383.72 L493.81,382.36 L493.98,381.00 L494.14,379.64 L494.31,378.28 L494.47,376.92 L494.64,375.55 L494.80,374.19 L494.96,372.83 L495.12,371.47 L495.28,370.10 L495.44,368.74 L495.60,367.38 L495.75,366.02 L495.91,364.65 L496.07,363.29 L496.22,361.93 L496.37,360.56 L496.53,359.20 L496.68,357.84 L496.83,356.47 L496.98,355.11 L497.13,353.75 L497.28,352.38 L497.43,351.02 L497.58,349.66 L497.73,348.29 L497.87,346.93 L498.02,345.57 L498.16,344.20 L498.31,342.84 L498.45,341.47 L498.60,340.11 L498.74,338.75 L498.88,337.38 L499.02,336.02 L499.16,334.65 L499.30,333.29 L499.44,331.93 L499.58,330.56 L499.72,329.20 L499.86,327.83 L499.99,326.47 L500.13,325.10 L500.26,323.74 L500.40,322.37 L500.53,321.01 L500.67,319.64 L500.80,318.28 L500.94,316.91 L501.07,315.55 L501.20,314.18 L501.33,312.82 L501.46,311.45 L501.59,310.09 L501.73,308.72 L501.85,307.36 L501.98,305.99 L502.11,304.63 L502.24,303.26 L502.37,301.90 L502.50,300.53 L502.63,299.17 L502.75,297.80 L502.88,296.44 L503.00,295.07 L503.13,293.71 L503.26,292.34 L503.38,290.98 L503.51,289.61 L503.63,288.24 L503.75,286.88 L503.88,285.51 L504.00,284.15 L504.12,282.78 L504.25,281.42 L504.37,280.05 L504.49,278.69 L504.61,277.32 L504.74,275.95 L504.86,274.59 L504.98,273.22 L505.10,271.86 L505.22,270.49 L505.34,269.13 L505.46,267.76 L505.58,266.39 L505.70,265.03 L505.82,263.66 L505.94,262.30 L506.06,260.93 L506.18,259.57 L506.30,258.20 L506.42,256.84 L506.54,255.47 L506.65,254.10 L506.77,252.74 L506.89,251.37 L507.01,250.01 L507.13,248.64 L507.25,247.28 L507.36,245.91 L507.48,244.55 L507.60,243.18 L507.72,241.81 L507.84,240.45 L507.95,239.08 L508.07,237.72 L508.19,236.35 L508.31,234.99 L508.42,233.62 L508.54,232.26 L508.66,230.89 L508.78,229.53 L508.90,228.16 L509.01,226.80 L509.13,225.43 L509.25,224.07 L509.37,222.70 L509.49,221.34 L509.60,219.97 L509.72,218.60 L509.84,217.24 L509.96,215.88 L510.08,214.51 L510.20,213.15 L510.32,211.78 L510.44,210.42 L510.56,209.05 L510.67,207.69 L510.79,206.32 L510.91,204.96 L511.03,203.59 L511.15,202.23 L511.27,200.86 L511.40,199.50 L511.52,198.13 L511.64,196.77 L511.76,195.41 L511.88,194.04 L512.00,192.68 L512.12,191.31 L512.25,189.95 L512.37,188.59 L512.49,187.22 L512.62,185.86 L512.74,184.49 L512.86,183.13 L512.99,181.77 L513.11,180.40 L513.24,179.04 L513.36,177.68 L513.49,176.31 L513.61,174.95 L513.74,173.59 L513.87,172.22 L513.99,170.86 L514.12,169.50 L514.25,168.13 L514.38,166.77 L514.50,165.41 L514.63,164.05 L514.76,162.68 L514.89,161.32 L515.02,159.96 L515.15,158.59 L515.28,157.23 L515.41,155.87 L515.53,154.50 L515.66,153.14 L515.79,151.78 L515.92,150.42 L516.05,149.05 L516.18,147.69 L516.31,146.32 L516.44,144.96 L516.57,143.60 L516.70,142.23 L516.83,140.87 L516.96,139.51 L517.09,138.14 L517.22,136.78 L517.35,135.41 L517.47,134.05 L517.60,132.68 L517.73,131.32 L517.86,129.95 L517.98,128.59 L518.11,127.22 L518.24,125.86 L518.36,124.49 L518.49,123.12 L518.62,121.76 L518.74,120.39 L518.87,119.02 L518.99,117.66 L519.11,116.29 L519.24,114.92 L519.36,113.55 L519.48,112.18 L519.60,110.81 L519.72,109.44 L519.85,108.08 L519.97,106.71 L520.08,105.34 L520.20,103.97 L520.32,102.59 L520.44,101.22 L520.55,99.85 L520.67,98.48 L520.79,97.11 L520.90,95.73 L521.01,94.36 L521.13,92.99 L521.24,91.61 L521.35,90.24 L521.46,88.87 L521.57,87.49 L521.68,86.11 L521.78,84.74 L521.89,83.36 L522.00,81.98 L522.11,80.61 L522.23,79.23 L522.35,77.85 L522.48,76.47 L522.62,75.09 L522.78,73.71 L522.95,72.33 L523.14,70.95 L523.34,69.57 L523.56,68.19 L523.81,66.80 L524.08,65.42 L524.38,64.03 L524.71,62.65 L525.06,61.26 L525.45,59.88 L525.87,58.54 L526.33,57.45 L526.84,56.85 L527.38,56.91 L527.91,57.54 L528.39,58.57 L528.76,59.87 L529.04,61.39 L529.25,63.06 L529.40,64.83 L529.50,66.64 L529.59,68.45 L529.67,70.20 L529.76,71.83 L529.87,73.33 L529.99,74.73 L530.12,76.05 L530.26,77.31 L530.40,78.55 L530.53,79.78 L530.65,81.05 L530.76,82.36 L530.87,83.71 L530.96,85.08 L531.06,86.45 L531.16,87.82 L531.26,89.20 L531.35,90.57 L531.45,91.94 L531.55,93.31 L531.64,94.68 L531.74,96.05 L531.83,97.42 L531.93,98.79 L532.02,100.16 L532.12,101.53 L532.21,102.90 L532.30,104.27 L532.39,105.64 L532.48,107.01 L532.57,108.37 L532.66,109.74 L532.75,111.11 L532.84,112.48 L532.93,113.85 L533.01,115.22 L533.10,116.58 L533.18,117.95 L533.26,119.32 L533.35,120.69 L533.43,122.06 L533.50,123.42 L533.58,124.79 L533.66,126.16 L533.73,127.53 L533.80,128.89 L533.88,130.26 L533.95,131.63 L534.01,133.00 L534.08,134.37 L534.15,135.73 L534.21,137.10 L534.27,138.47 L534.33,139.84 L534.40,141.21 L534.45,142.57 L534.51,143.94 L534.57,145.31 L534.62,146.68 L534.68,148.05 L534.73,149.41 L534.78,150.78 L534.84,152.15 L534.89,153.52 L534.94,154.89 L534.98,156.26 L535.03,157.63 L535.08,158.99 L535.13,160.36 L535.17,161.73 L535.22,163.10 L535.26,164.47 L535.31,165.84 L535.35,167.21 L535.40,168.57 L535.44,169.94 L535.48,171.31 L535.52,172.68 L535.57,174.05 L535.61,175.42 L535.65,176.79 L535.69,178.16 L535.74,179.52 L535.78,180.89 L535.82,182.26 L535.86,183.63 L535.90,185.00 L535.95,186.37 L535.99,187.74 L536.03,189.11 L536.07,190.48 L536.12,191.84 L536.16,193.21 L536.21,194.58 L536.25,195.95 L536.29,197.32 L536.34,198.69 L536.39,200.06 L536.43,201.43 L536.48,202.80 L536.53,204.16 L536.58,205.53 L536.63,206.90 L536.68,208.27 L536.73,209.64 L536.78,211.01 L536.83,212.38 L536.89,213.75 L536.94,215.12 L537.00,216.48 L537.05,217.85 L537.11,219.22 L537.16,220.59 L537.22,221.96 L537.28,223.33 L537.34,224.70 L537.40,226.07 L537.46,227.44 L537.52,228.80 L537.58,230.17 L537.64,231.54 L537.70,232.91 L537.76,234.28 L537.82,235.65 L537.88,237.02 L537.95,238.39 L538.01,239.76 L538.08,241.13 L538.14,242.49 L538.20,243.86 L538.27,245.23 L538.33,246.60 L538.40,247.97 L538.47,249.34 L538.53,250.71 L538.60,252.08 L538.66,253.45 L538.73,254.81 L538.80,256.18 L538.86,257.55 L538.93,258.92 L539.00,260.29 L539.07,261.66 L539.13,263.03 L539.20,264.40 L539.27,265.77 L539.34,267.14 L539.40,268.51 L539.47,269.87 L539.54,271.24 L539.61,272.61 L539.68,273.98 L539.74,275.35 L539.81,276.72 L539.88,278.09 L539.95,279.46 L540.02,280.83 L540.08,282.20 L540.15,283.57 L540.22,284.94 L540.28,286.30 L540.35,287.67 L540.42,289.04 L540.48,290.41 L540.55,291.78 L540.62,293.15 L540.68,294.52 L540.75,295.89 L540.81,297.26 L540.88,298.63 L540.94,300.00 L541.01,301.37 L541.07,302.74 L541.13,304.11 L541.20,305.48 L541.26,306.85 L541.32,308.21 L541.38,309.58 L541.44,310.95 L541.50,312.32 L541.56,313.69 L541.62,315.06 L541.68,316.43 L541.74,317.80 L541.80,319.17 L541.86,320.54 L541.91,321.91 L541.97,323.28 L542.03,324.65 L542.08,326.02 L542.14,327.39 L542.19,328.76 L542.24,330.13 L542.30,331.50 L542.35,332.87 L542.40,334.24 L542.45,335.61 L542.50,336.98 L542.55,338.35 L542.60,339.72 L542.64,341.09 L542.69,342.46 L542.74,343.83 L542.78,345.20 L542.83,346.57 L542.88,347.94 L542.92,349.31 L542.97,350.68 L543.02,352.05 L543.06,353.42 L543.11,354.79 L543.15,356.16 L543.20,357.53 L543.25,358.89 L543.30,360.26 L543.34,361.63 L543.39,363.00 L543.44,364.37 L543.49,365.74 L543.54,367.11 L543.59,368.48 L543.64,369.85 L543.70,371.21 L543.75,372.58 L543.81,373.95 L543.86,375.32 L543.92,376.69 L543.98,378.05 L544.04,379.42 L544.10,380.79 L544.17,382.15 L544.23,383.52 L544.30,384.89 L544.36,386.25 L544.43,387.62 L544.51,388.98 L544.58,390.35 L544.65,391.71 L544.73,393.08 L544.81,394.44 L544.89,395.81 L544.98,397.17 L545.06,398.54 L545.15,399.90 L545.24,401.26 L545.34,402.63 L545.43,403.99 L545.53,405.35 L545.63,406.71 L545.74,408.07 L545.84,409.44 L545.95,410.80 L546.07,412.16 L546.18,413.52 L546.30,414.88 L546.42,416.24 L546.55,417.60 L546.68,418.95 L546.81,420.31 L546.94,421.67 L547.08,423.03 L547.23,424.38 L547.37,425.74 L547.52,427.10 L547.68,428.45 L547.83,429.81 L547.99,431.16 L548.16,432.52 L548.33,433.87 L548.50,435.23 L548.68,436.58 L548.86,437.93 L549.05,439.28 L549.24,440.63 L549.43,441.99 L549.63,443.34 L549.83,444.69 L550.04,446.03 L550.25,447.38 L550.47,448.73 L550.69,450.08 L550.91,451.42 L551.14,452.77 L551.37,454.11 L551.60,455.45 L551.84,456.79 L552.08,458.13 L552.33,459.47 L552.57,460.81 L552.83,462.14 L553.08,463.48 L553.34,464.81 L553.60,466.14 L553.86,467.47 L554.13,468.79 L554.39,470.12 L554.67,471.44 L554.94,472.76 L555.22,474.08 L555.49,475.40 L555.78,476.71 L556.06,478.02 L556.34,479.33 L556.63,480.64 L556.92,481.94 L557.21,483.24 L557.51,484.54 L557.80,485.84 L558.10,487.13 L558.40,488.42 L558.70,489.71 L559.00,491.00 L559.30,492.28 L559.61,493.56 L559.92,494.84 L560.24,496.11 L560.56,497.39 L560.90,498.66 L561.26,499.93 L561.63,501.21 L562.02,502.48 L562.44,503.75 L562.88,505.03 L563.34,506.31 L563.83,507.59 L564.36,508.87 L564.92,510.16 L565.51,511.45 L566.14,512.73 L566.80,514.00 L567.51,515.24 L568.25,516.44 L569.02,517.60 L569.84,518.71 L570.68,519.77 L571.57,520.78 L572.48,521.75 L573.43,522.68 L574.41,523.57 L575.42,524.41 L576.45,525.22 L577.52,525.99 L578.61,526.73 L579.72,527.43 L580.86,528.08 L582.03,528.71 L583.21,529.31 L584.42,529.88 L585.64,530.42 L586.00,530.57 L587.00,530.97 L588.00,531.34 L589.00,531.69 L590.00,532.02 L591.00,532.34 L592.00,532.65 L593.00,532.95 L594.00,533.24 L595.00,533.52 L596.00,533.79 L597.00,534.04 L598.00,534.29 L599.00,534.51 L600.00,534.73 L601.00,534.92 L602.00,535.10 L603.00,535.27 L604.00,535.43 L605.00,535.58 L606.00,535.71 L607.00,535.84 L608.00,535.96 L609.00,536.07 L610.00,536.17 L611.00,536.26 L612.00,536.35 L613.00,536.44 L614.00,536.51 L615.00,536.59 L616.00,536.65 L617.00,536.72 L618.00,536.78 L619.00,536.83 L620.00,536.89 L621.00,536.94 L622.00,536.99 L623.00,537.03 L624.00,537.08 L625.00,537.12 L626.00,537.16 L627.00,537.20 L628.00,537.24 L629.00,537.27 L630.00,537.31 L631.00,537.34 L632.00,537.37 L633.00,537.41 L634.00,537.44 L635.00,537.47 L636.00,537.49 L637.00,537.52 L638.00,537.55 L639.00,537.57 L640.00,537.60 L641.00,537.62 L642.00,537.65 L643.00,537.67 L644.00,537.70 L645.00,537.72 L646.00,537.74 L647.00,537.76 L648.00,537.79 L649.00,537.81 L650.00,537.83 L651.00,537.85 L652.00,537.86 L653.00,537.88 L654.00,537.90 L655.00,537.91 L656.00,537.92 L657.00,537.93 L658.00,537.93 L659.00,537.94 L660.00,537.94 L661.00,537.95 L662.00,537.95 L663.00,537.95 L664.00,537.95 L665.00,537.95 L666.00,537.95 L667.00,537.95 L668.00,537.95 L669.00,537.95 L670.00,537.95 L671.00,537.95 L672.00,537.95 L673.00,537.95 L674.00,537.95 L675.00,537.95 L676.00,537.95 L677.00,537.95 L678.00,537.95 L679.00,537.95 L680.00,537.95 L681.00,537.95 L682.00,537.95 L683.00,537.95 L684.00,537.95 L685.00,537.95 L686.00,537.95 L687.00,537.95 L688.00,537.95 L689.00,537.95 L690.00,537.95 L691.00,537.95 L692.00,537.95 L693.00,537.95 L694.00,537.95 L695.00,537.95 L696.00,537.95 L697.00,537.95 L698.00,537.95 L699.00,537.95 L700.00,537.95 L701.00,537.95 L702.00,537.95 L703.00,537.95 L704.00,537.95 L705.00,537.95 L706.00,537.95 L707.00,537.95 L708.00,537.95 L709.00,537.95 L710.00,537.95 L711.00,537.95 L712.00,537.95 L713.00,537.95 L714.00,537.95 L715.00,537.95 L716.00,537.95 L717.00,537.95 L718.00,537.95 L719.00,537.95 L720.00,537.95 L721.00,537.95 L722.00,537.95 L723.00,537.95 L724.00,537.95 L725.00,537.95 L726.00,537.95 L727.00,537.95 L728.00,537.95 L729.00,537.95 L730.00,537.95 L731.00,537.95" fill="none" stroke="#000" stroke-width="3.2" stroke-linejoin="round" stroke-linecap="butt"/>
<path d="M32.55,537.90H731.00" stroke="#000" stroke-width="2.6"/>
<rect x="31.5" y="535.8" width="10" height="3.8" fill="#000"/>
<text x="25.6" y="543.20" text-anchor="end" font-family="Liberation Sans" font-weight="bold" font-size="10.4" stroke="#000" stroke-width="0.15">0</text>
<text x="25.6" y="494.78" text-anchor="end" font-family="Liberation Sans" font-weight="bold" font-size="10.4" stroke="#000" stroke-width="0.15" textLength="12.5" lengthAdjust="spacingAndGlyphs">0.1</text>
<text x="25.6" y="446.36" text-anchor="end" font-family="Liberation Sans" font-weight="bold" font-size="10.4" stroke="#000" stroke-width="0.15" textLength="12.5" lengthAdjust="spacingAndGlyphs">0.2</text>
<text x="25.6" y="397.94" text-anchor="end" font-family="Liberation Sans" font-weight="bold" font-size="10.4" stroke="#000" stroke-width="0.15" textLength="12.5" lengthAdjust="spacingAndGlyphs">0.3</text>
<text x="25.6" y="349.52" text-anchor="end" font-family="Liberation Sans" font-weight="bold" font-size="10.4" stroke="#000" stroke-width="0.15" textLength="12.5" lengthAdjust="spacingAndGlyphs">0.4</text>
<text x="25.6" y="301.10" text-anchor="end" font-family="Liberation Sans" font-weight="bold" font-size="10.4" stroke="#000" stroke-width="0.15" textLength="12.5" lengthAdjust="spacingAndGlyphs">0.5</text>
<text x="25.6" y="252.68" text-anchor="end" font-family="Liberation Sans" font-weight="bold" font-size="10.4" stroke="#000" stroke-width="0.15" textLength="12.5" lengthAdjust="spacingAndGlyphs">0.6</text>
<text x="25.6" y="204.26" text-anchor="end" font-family="Liberation Sans" font-weight="bold" font-size="10.4" stroke="#000" stroke-width="0.15" textLength="12.5" lengthAdjust="spacingAndGlyphs">0.7</text>
<text x="25.6" y="155.84" text-anchor="end" font-family="Liberation Sans" font-weight="bold" font-size="10.4" stroke="#000" stroke-width="0.15" textLength="12.5" lengthAdjust="spacingAndGlyphs">0.8</text>
<text x="25.6" y="107.42" text-anchor="end" font-family="Liberation Sans" font-weight="bold" font-size="10.4" stroke="#000" stroke-width="0.15" textLength="12.5" lengthAdjust="spacingAndGlyphs">0.9</text>
<text x="25.6" y="59.00" text-anchor="end" font-family="Liberation Sans" font-weight="bold" font-size="10.4" stroke="#000" stroke-width="0.15">1</text>
<text transform="translate(36.30,558.8) rotate(-90)" font-family="Liberation Sans" font-weight="bold" font-size="10.0" stroke="#000" stroke-width="0.3" textLength="15.4" lengthAdjust="spacingAndGlyphs">380</text>
<text transform="translate(52.03,558.8) rotate(-90)" font-family="Liberation Sans" font-weight="bold" font-size="10.0" stroke="#000" stroke-width="0.3" textLength="15.4" lengthAdjust="spacingAndGlyphs">389</text>
<text transform="translate(67.77,558.8) rotate(-90)" font-family="Liberation Sans" font-weight="bold" font-size="10.0" stroke="#000" stroke-width="0.3" textLength="15.4" lengthAdjust="spacingAndGlyphs">398</text>
<text transform="translate(83.50,558.8) rotate(-90)" font-family="Liberation Sans" font-weight="bold" font-size="10.0" stroke="#000" stroke-width="0.3" textLength="15.4" lengthAdjust="spacingAndGlyphs">407</text>
<text transform="translate(99.24,558.8) rotate(-90)" font-family="Liberation Sans" font-weight="bold" font-size="10.0" stroke="#000" stroke-width="0.3" textLength="15.4" lengthAdjust="spacingAndGlyphs">416</text>
<text transform="translate(114.97,558.8) rotate(-90)" font-family="Liberation Sans" font-weight="bold" font-size="10.0" stroke="#000" stroke-width="0.3" textLength="15.4" lengthAdjust="spacingAndGlyphs">425</text>
<text transform="translate(130.71,558.8) rotate(-90)" font-family="Liberation Sans" font-weight="bold" font-size="10.0" stroke="#000" stroke-width="0.3" textLength="15.4" lengthAdjust="spacingAndGlyphs">434</text>
<text transform="translate(146.44,558.8) rotate(-90)" font-family="Liberation Sans" font-weight="bold" font-size="10.0" stroke="#000" stroke-width="0.3" textLength="15.4" lengthAdjust="spacingAndGlyphs">443</text>
<text transform="translate(162.18,558.8) rotate(-90)" font-family="Liberation Sans" font-weight="bold" font-size="10.0" stroke="#000" stroke-width="0.3" textLength="15.4" lengthAdjust="spacingAndGlyphs">452</text>
<text transform="translate(177.91,558.8) rotate(-90)" font-family="Liberation Sans" font-weight="bold" font-size="10.0" stroke="#000" stroke-width="0.3" textLength="15.4" lengthAdjust="spacingAndGlyphs">461</text>
<text transform="translate(193.65,558.8) rotate(-90)" font-family="Liberation Sans" font-weight="bold" font-size="10.0" stroke="#000" stroke-width="0.3" textLength="15.4" lengthAdjust="spacingAndGlyphs">470</text>
<text transform="translate(209.38,558.8) rotate(-90)" font-family="Liberation Sans" font-weight="bold" font-size="10.0" stroke="#000" stroke-width="0.3" textLength="15.4" lengthAdjust="spacingAndGlyphs">479</text>
<text transform="translate(225.12,558.8) rotate(-90)" font-family="Liberation Sans" font-weight="bold" font-size="10.0" stroke="#000" stroke-width="0.3" textLength="15.4" lengthAdjust="spacingAndGlyphs">488</text>
<text transform="translate(240.85,558.8) rotate(-90)" font-family="Liberation Sans" font-weight="bold" font-size="10.0" stroke="#000" stroke-width="0.3" textLength="15.4" lengthAdjust="spacingAndGlyphs">497</text>
<text transform="translate(256.59,558.8) rotate(-90)" font-family="Liberation Sans" font-weight="bold" font-size="10.0" stroke="#000" stroke-width="0.3" textLength="15.4" lengthAdjust="spacingAndGlyphs">506</text>
<text transform="translate(272.32,558.8) rotate(-90)" font-family="Liberation Sans" font-weight="bold" font-size="10.0" stroke="#000" stroke-width="0.3" textLength="15.4" lengthAdjust="spacingAndGlyphs">515</text>
<text transform="translate(288.06,558.8) rotate(-90)" font-family="Liberation Sans" font-weight="bold" font-size="10.0" stroke="#000" stroke-width="0.3" textLength="15.4" lengthAdjust="spacingAndGlyphs">524</text>
<text transform="translate(303.79,558.8) rotate(-90)" font-family="Liberation Sans" font-weight="bold" font-size="10.0" stroke="#000" stroke-width="0.3" textLength="15.4" lengthAdjust="spacingAndGlyphs">533</text>
<text transform="translate(319.52,558.8) rotate(-90)" font-family="Liberation Sans" font-weight="bold" font-size="10.0" stroke="#000" stroke-width="0.3" textLength="15.4" lengthAdjust="spacingAndGlyphs">542</text>
<text transform="translate(335.26,558.8) rotate(-90)" font-family="Liberation Sans" font-weight="bold" font-size="10.0" stroke="#000" stroke-width="0.3" textLength="15.4" lengthAdjust="spacingAndGlyphs">551</text>
<text transform="translate(350.99,558.8) rotate(-90)" font-family="Liberation Sans" font-weight="bold" font-size="10.0" stroke="#000" stroke-width="0.3" textLength="15.4" lengthAdjust="spacingAndGlyphs">560</text>
<text transform="translate(366.73,558.8) rotate(-90)" font-family="Liberation Sans" font-weight="bold" font-size="10.0" stroke="#000" stroke-width="0.3" textLength="15.4" lengthAdjust="spacingAndGlyphs">569</text>
<text transform="translate(382.46,558.8) rotate(-90)" font-family="Liberation Sans" font-weight="bold" font-size="10.0" stroke="#000" stroke-width="0.3" textLength="15.4" lengthAdjust="spacingAndGlyphs">578</text>
<text transform="translate(398.20,558.8) rotate(-90)" font-family="Liberation Sans" font-weight="bold" font-size="10.0" stroke="#000" stroke-width="0.3" textLength="15.4" lengthAdjust="spacingAndGlyphs">587</text>
<text transform="translate(413.93,558.8) rotate(-90)" font-family="Liberation Sans" font-weight="bold" font-size="10.0" stroke="#000" stroke-width="0.3" textLength="15.4" lengthAdjust="spacingAndGlyphs">596</text>
<text transform="translate(429.67,558.8) rotate(-90)" font-family="Liberation Sans" font-weight="bold" font-size="10.0" stroke="#000" stroke-width="0.3" textLength="15.4" lengthAdjust="spacingAndGlyphs">605</text>
<text transform="translate(445.40,558.8) rotate(-90)" font-family="Liberation Sans" font-weight="bold" font-size="10.0" stroke="#000" stroke-width="0.3" textLength="15.4" lengthAdjust="spacingAndGlyphs">614</text>
<text transform="translate(461.14,558.8) rotate(-90)" font-family="Liberation Sans" font-weight="bold" font-size="10.0" stroke="#000" stroke-width="0.3" textLength="15.4" lengthAdjust="spacingAndGlyphs">623</text>
<text transform="translate(476.87,558.8) rotate(-90)" font-family="Liberation Sans" font-weight="bold" font-size="10.0" stroke="#000" stroke-width="0.3" textLength="15.4" lengthAdjust="spacingAndGlyphs">632</text>
<text transform="translate(492.61,558.8) rotate(-90)" font-family="Liberation Sans" font-weight="bold" font-size="10.0" stroke="#000" stroke-width="0.3" textLength="15.4" lengthAdjust="spacingAndGlyphs">641</text>
<text transform="translate(508.34,558.8) rotate(-90)" font-family="Liberation Sans" font-weight="bold" font-size="10.0" stroke="#000" stroke-width="0.3" textLength="15.4" lengthAdjust="spacingAndGlyphs">650</text>
<text transform="translate(524.08,558.8) rotate(-90)" font-family="Liberation Sans" font-weight="bold" font-size="10.0" stroke="#000" stroke-width="0.3" textLength="15.4" lengthAdjust="spacingAndGlyphs">659</text>
<text transform="translate(539.81,558.8) rotate(-90)" font-family="Liberation Sans" font-weight="bold" font-size="10.0" stroke="#000" stroke-width="0.3" textLength="15.4" lengthAdjust="spacingAndGlyphs">668</text>
<text transform="translate(555.55,558.8) rotate(-90)" font-family="Liberation Sans" font-weight="bold" font-size="10.0" stroke="#000" stroke-width="0.3" textLength="15.4" lengthAdjust="spacingAndGlyphs">677</text>
<text transform="translate(571.28,558.8) rotate(-90)" font-family="Liberation Sans" font-weight="bold" font-size="10.0" stroke="#000" stroke-width="0.3" textLength="15.4" lengthAdjust="spacingAndGlyphs">686</text>
<text transform="translate(587.01,558.8) rotate(-90)" font-family="Liberation Sans" font-weight="bold" font-size="10.0" stroke="#000" stroke-width="0.3" textLength="15.4" lengthAdjust="spacingAndGlyphs">695</text>
<text transform="translate(602.75,558.8) rotate(-90)" font-family="Liberation Sans" font-weight="bold" font-size="10.0" stroke="#000" stroke-width="0.3" textLength="15.4" lengthAdjust="spacingAndGlyphs">704</text>
<text transform="translate(618.48,558.8) rotate(-90)" font-family="Liberation Sans" font-weight="bold" font-size="10.0" stroke="#000" stroke-width="0.3" textLength="15.4" lengthAdjust="spacingAndGlyphs">713</text>
<text transform="translate(634.22,558.8) rotate(-90)" font-family="Liberation Sans" font-weight="bold" font-size="10.0" stroke="#000" stroke-width="0.3" textLength="15.4" lengthAdjust="spacingAndGlyphs">722</text>
<text transform="translate(649.95,558.8) rotate(-90)" font-family="Liberation Sans" font-weight="bold" font-size="10.0" stroke="#000" stroke-width="0.3" textLength="15.4" lengthAdjust="spacingAndGlyphs">731</text>
<text transform="translate(665.69,558.8) rotate(-90)" font-family="Liberation Sans" font-weight="bold" font-size="10.0" stroke="#000" stroke-width="0.3" textLength="15.4" lengthAdjust="spacingAndGlyphs">740</text>
<text transform="translate(681.42,558.8) rotate(-90)" font-family="Liberation Sans" font-weight="bold" font-size="10.0" stroke="#000" stroke-width="0.3" textLength="15.4" lengthAdjust="spacingAndGlyphs">749</text>
<text transform="translate(697.16,558.8) rotate(-90)" font-family="Liberation Sans" font-weight="bold" font-size="10.0" stroke="#000" stroke-width="0.3" textLength="15.4" lengthAdjust="spacingAndGlyphs">758</text>
<text transform="translate(712.89,558.8) rotate(-90)" font-family="Liberation Sans" font-weight="bold" font-size="10.0" stroke="#000" stroke-width="0.3" textLength="15.4" lengthAdjust="spacingAndGlyphs">767</text>
<text transform="translate(728.63,558.8) rotate(-90)" font-family="Liberation Sans" font-weight="bold" font-size="10.0" stroke="#000" stroke-width="0.3" textLength="15.4" lengthAdjust="spacingAndGlyphs">776</text>
<text x="334.8" y="21.6" font-family="Liberation Sans" font-size="15.8" stroke="#000" stroke-width="0.45" textLength="30.6" lengthAdjust="spacingAndGlyphs">Red</text>
<text x="371.2" y="21.6" font-family="Liberation Sans" font-size="15.8" stroke="#000" stroke-width="0.45">:</text>
<text x="380.5" y="21.6" font-family="Liberation Sans" font-size="15.8" stroke="#000" stroke-width="0.45" textLength="35.0" lengthAdjust="spacingAndGlyphs">Blue</text>
<text x="359.8" y="37.7" font-family="Liberation Serif" font-weight="bold" font-size="14.4" textLength="20.6" lengthAdjust="spacingAndGlyphs">6:1</text>
<text transform="translate(10.8,332.6) rotate(-90)" font-family="Liberation Sans" font-size="12.7" stroke="#000" stroke-width="0.2" textLength="93.5" lengthAdjust="spacingAndGlyphs">Relative Power</text>
<g fill="none" stroke="#1a1a1a" stroke-width="1.25" stroke-linecap="round" stroke-linejoin="round"><path d="M362.6,561.9l1.1,0.9 M362.3,564.9l1.1,0.9 M362.4,570.4l1.7,-3.4"/><path d="M366.4,563.3h4.6v1.3 M366.4,563.3v3.4c0,1.7 -0.4,3 -1.3,4.1 M368.6,561.2v5.2 M366.9,566.4h4.1c-0.6,1.9 -2.1,3.3 -4.2,4.2 M367.8,567.7c1,1.3 2.3,2.3 3.6,2.8"/><path d="M373.6,561.2v8.6l1.5,-0.9 M372.3,566.0h8.8 M379.6,561.6l-4.1,3.1 M375.6,566.4c1.4,2.2 3.4,3.9 5.6,4.5"/><path d="M382.3,571.2l3.5,-9.2" stroke-width="1.5"/></g>
<text x="386.8" y="570" font-family="Liberation Sans" font-weight="bold" font-size="11.5" textLength="15.6" lengthAdjust="spacingAndGlyphs">nm</text>
<rect x="740" y="23" width="1" height="553" fill="#5a5a5a"/>
<rect x="0" y="575" width="741" height="1" fill="#606060"/>
</svg>
</body></html>
